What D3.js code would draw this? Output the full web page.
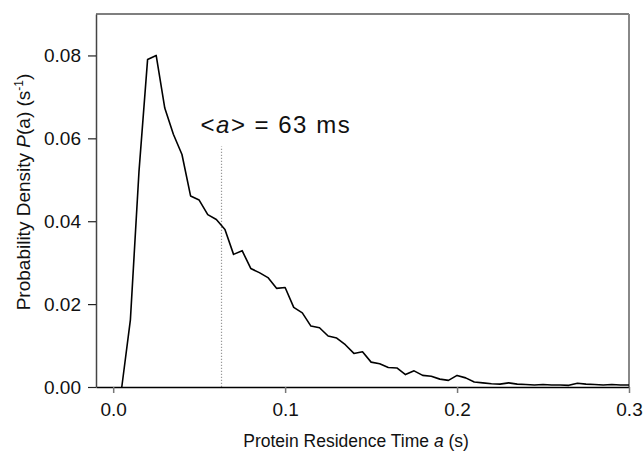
<!DOCTYPE html>
<html>
<head>
<meta charset="utf-8">
<script src="https://cdn.jsdelivr.net/npm/d3@7"></script>
<style>
  body { margin: 0; background: #fff; }
  text { font-family: "Liberation Sans", Arial, sans-serif; fill: #111; }
</style>
</head>
<body>
<div id="chart"></div>
<script>
// residence time (s), one bin every 5 ms
var times = [
  0.005, 0.010, 0.015, 0.020, 0.025, 0.030, 0.035, 0.040, 0.045, 0.050,
  0.055, 0.060, 0.065, 0.070, 0.075, 0.080, 0.085, 0.090, 0.095, 0.100,
  0.105, 0.110, 0.115, 0.120, 0.125, 0.130, 0.135, 0.140, 0.145, 0.150,
  0.155, 0.160, 0.165, 0.170, 0.175, 0.180, 0.185, 0.190, 0.195, 0.200,
  0.205, 0.210, 0.215, 0.220, 0.225, 0.230, 0.235, 0.240, 0.245, 0.250,
  0.255, 0.260, 0.265, 0.270, 0.275, 0.280, 0.285, 0.290, 0.295, 0.300
];

// probability density P(a) (1/s)
var density = [
  0.0000, 0.0162, 0.0520, 0.0790, 0.0800, 0.0673, 0.0610, 0.0561, 0.0461, 0.0451,
  0.0416, 0.0404, 0.0380, 0.0320, 0.0329, 0.0286, 0.0276, 0.0264, 0.0238, 0.0240,
  0.0192, 0.0179, 0.0147, 0.0143, 0.0123, 0.0118, 0.0102, 0.0081, 0.0085, 0.0060,
  0.0056, 0.0047, 0.0046, 0.0030, 0.0039, 0.0028, 0.0026, 0.0019, 0.0016, 0.0028,
  0.0022, 0.0012, 0.0010, 0.0008, 0.0007, 0.0010, 0.0007, 0.0006, 0.0005, 0.0006,
  0.0005, 0.0005, 0.0004, 0.0009, 0.0007, 0.0006, 0.0005, 0.0006, 0.0005, 0.0005
];

var xTicks = [0.0, 0.1, 0.2, 0.3];
var yTicks = [0.00, 0.02, 0.04, 0.06, 0.08];

var meanTime = 0.063;     // <a> = 63 ms
var meanTop = 0.058;

var width = 643, height = 453;
var margin = { top: 14, right: 14, bottom: 66, left: 96 };
var w = width - margin.left - margin.right;
var h = height - margin.top - margin.bottom;

var data = times.map(function(t, i) { return { t: t, p: density[i] }; });

var x = d3.scaleLinear().domain([-0.01, 0.3]).range([0, w]);
var y = d3.scaleLinear().domain([0, 0.09]).range([h, 0]);

var svg = d3.select("#chart").append("svg")
    .attr("width", width)
    .attr("height", height);

var g = svg.append("g")
    .attr("transform", "translate(" + margin.left + "," + margin.top + ")");

// frame top and right (grey)
g.append("line")
    .attr("x1", 0).attr("x2", w).attr("y1", 0).attr("y2", 0)
    .attr("stroke", "#555").attr("stroke-width", 1.5);
g.append("line")
    .attr("x1", w).attr("x2", w).attr("y1", 0).attr("y2", h)
    .attr("stroke", "#888").attr("stroke-width", 2);

// mean marker
g.append("line")
    .attr("x1", x(meanTime)).attr("x2", x(meanTime))
    .attr("y1", y(0)).attr("y2", y(meanTop))
    .attr("stroke", "#999")
    .attr("stroke-width", 1.2)
    .attr("stroke-dasharray", "1.2,1.8");

var ann = g.append("text")
    .attr("x", x(0.0508))
    .attr("y", y(0.0613))
    .attr("font-size", 24)
    .attr("letter-spacing", 1.5);
ann.append("tspan").text("<");
ann.append("tspan").attr("font-style", "italic").text("a");
ann.append("tspan").text("> = 63 ms");

// curve
var line = d3.line()
    .x(function(d) { return x(d.t); })
    .y(function(d) { return y(d.p); });

g.append("path")
    .datum(data)
    .attr("fill", "none")
    .attr("stroke", "#000")
    .attr("stroke-width", 1.6)
    .attr("stroke-linejoin", "round")
    .attr("d", line);

// axes
var xAxis = d3.axisBottom(x).tickValues(xTicks).tickFormat(d3.format(".1f"))
    .tickSizeInner(6).tickSizeOuter(0).tickPadding(10);
var yAxis = d3.axisLeft(y).tickValues(yTicks).tickFormat(d3.format(".2f"))
    .tickSizeInner(8).tickSizeOuter(0).tickPadding(7);

var gx = g.append("g")
    .attr("transform", "translate(0," + h + ")")
    .call(xAxis);
gx.select(".domain").attr("stroke", "#000").attr("stroke-width", 1.5);
gx.selectAll(".tick line").attr("stroke", "#777").attr("stroke-width", 1.5);
gx.selectAll(".tick text").attr("font-size", 19).attr("font-family", "Liberation Sans, Arial, sans-serif").attr("fill", "#111");

var gy = g.append("g").call(yAxis);
gy.select(".domain").attr("stroke", "#444").attr("stroke-width", 1.5);
gy.selectAll(".tick line").attr("stroke", "#222").attr("stroke-width", 1.2);
gy.selectAll(".tick text").attr("font-size", 19).attr("font-family", "Liberation Sans, Arial, sans-serif").attr("fill", "#111");

// axis titles
var xt = svg.append("text")
    .attr("x", margin.left + x(0.15) - 15)
    .attr("y", 447)
    .attr("text-anchor", "middle")
    .attr("font-size", 17.5);
xt.append("tspan").text("Protein Residence Time ");
xt.append("tspan").attr("font-style", "italic").text("a");
xt.append("tspan").text(" (s)");

var yt = svg.append("text")
    .attr("transform", "translate(30," + 192 + ") rotate(-90)")
    .attr("text-anchor", "middle")
    .attr("font-size", 19);
yt.append("tspan").text("Probability Density ");
yt.append("tspan").attr("font-style", "italic").text("P");
yt.append("tspan").text("(a) (s");
yt.append("tspan").attr("font-size", 12).attr("dy", -7).text("-1");
yt.append("tspan").attr("dy", 7).text(")");
</script>
</body>
</html>
